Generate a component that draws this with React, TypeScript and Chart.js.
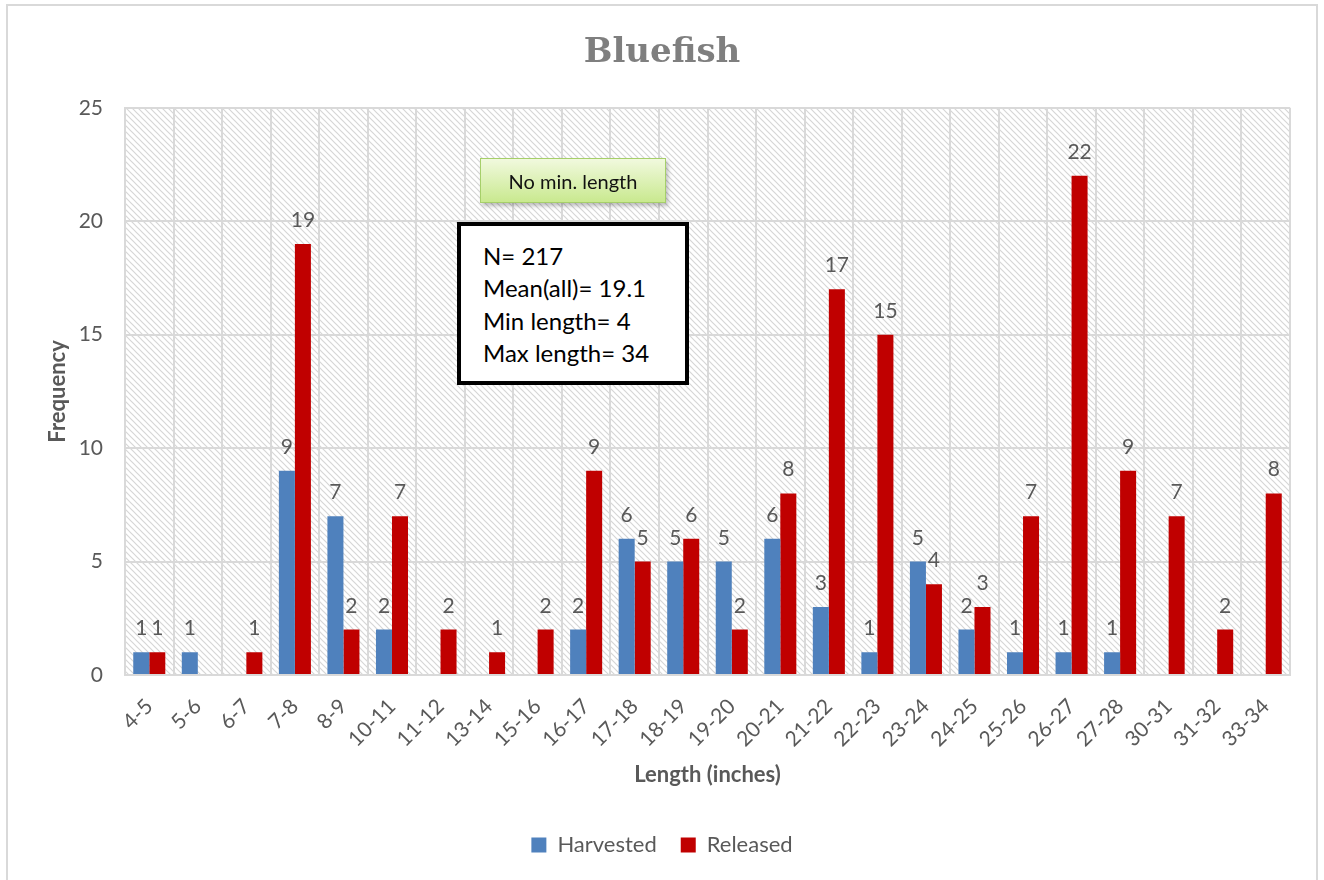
import React, { useEffect, useRef } from "react";
import { Chart, registerables } from "chart.js";

Chart.register(...registerables);

const categories = ["4-5","5-6","6-7","7-8","8-9","10-11","11-12","13-14","15-16","16-17","17-18","18-19","19-20","20-21","21-22","22-23","23-24","24-25","25-26","26-27","27-28","30-31","31-32","33-34"];
const harvested = [1,1,null,9,7,2,null,null,null,2,6,5,5,6,3,1,5,2,1,1,1,null,null,null];
const released = [1,null,1,19,2,7,2,1,2,9,5,6,2,8,17,15,4,3,7,22,9,7,2,8];
const yTicks = [0,5,10,15,20,25];
const statLines = ["N= 217","Mean(all)= 19.1","Min length= 4","Max length= 34"];
const noteText = "No min. length";

const GRAY = "#595959";
const FONT = "Lato, 'Noto Sans', sans-serif";

function makePattern(ctx: CanvasRenderingContext2D) {
  const s = 6;
  const c = document.createElement("canvas");
  c.width = s; c.height = s;
  const p = c.getContext("2d")!;
  p.fillStyle = "#ffffff";
  p.fillRect(0, 0, s, s);
  p.strokeStyle = "#d6d6d6";
  p.lineWidth = 1.2;
  p.beginPath();
  p.moveTo(-1, -1); p.lineTo(s + 1, s + 1);
  p.moveTo(s - 1, -1); p.lineTo(s + 1, 1);
  p.moveTo(-1, s - 1); p.lineTo(1, s + 1);
  p.stroke();
  return ctx.createPattern(c, "repeat");
}

const hatchPlugin = {
  id: "hatch",
  beforeDraw(chart: any) {
    const { ctx, chartArea } = chart;
    if (!chartArea) return;
    ctx.save();
    ctx.fillStyle = makePattern(ctx) || "#fff";
    ctx.fillRect(chartArea.left, chartArea.top, chartArea.right - chartArea.left, chartArea.bottom - chartArea.top);
    ctx.restore();
  },
};

const labelPlugin = {
  id: "barLabels",
  afterDatasetsDraw(chart: any) {
    const { ctx } = chart;
    ctx.save();
    ctx.font = `21px ${FONT}`;
    ctx.fillStyle = GRAY;
    ctx.textAlign = "center";
    ctx.textBaseline = "alphabetic";
    chart.data.datasets.forEach((ds: any, i: number) => {
      const meta = chart.getDatasetMeta(i);
      meta.data.forEach((el: any, j: number) => {
        const v = ds.data[j];
        if (v === null || v === undefined) return;
        ctx.fillText(String(v), el.x, el.y - 17);
      });
    });
    ctx.restore();
  },
};

export default function App() {
  const ref = useRef<HTMLCanvasElement>(null);
  useEffect(() => {
    if (!ref.current) return;
    const chart = new Chart(ref.current, {
      type: "bar",
      data: {
        labels: categories,
        datasets: [
          { label: "Harvested", data: harvested, backgroundColor: "#4f81bd", categoryPercentage: 0.66, barPercentage: 1 },
          { label: "Released", data: released, backgroundColor: "#c00000", categoryPercentage: 0.66, barPercentage: 1 },
        ],
      },
      options: {
        responsive: false,
        animation: false,
        devicePixelRatio: 1,
        layout: { padding: { top: 0, left: 34, right: 34, bottom: 14 } },
        plugins: {
          title: {
            display: true,
            text: "Bluefish",
            color: "#7f7f7f",
            font: { family: "'DejaVu Serif', serif", size: 34, weight: "bold" },
            padding: { top: 33, bottom: 34 },
          },
          legend: {
            position: "bottom",
            labels: {
              color: GRAY,
              font: { family: FONT, size: 22 },
              boxWidth: 15,
              boxHeight: 15,
              padding: 24,
            },
          },
          tooltip: { enabled: false },
        },
        scales: {
          x: {
            afterFit: (s: any) => { s.height = 135; },
            grid: { color: "#d9d9d9", lineWidth: 2, offset: true, drawTicks: false },
            border: { color: "#d9d9d9", width: 2 },
            ticks: {
              color: GRAY,
              font: { family: FONT, size: 21 },
              minRotation: 45,
              maxRotation: 45,
              autoSkip: false,
              padding: 19,
            },
            title: {
              display: true,
              text: "Length (inches)",
              color: GRAY,
              font: { family: FONT, size: 22, weight: "bold" },
              padding: { top: 0, bottom: 22 },
            },
          },
          y: {
            min: 0,
            max: 25,
            afterFit: (s: any) => { s.width = 91; },
            afterBuildTicks: (s: any) => { s.ticks = yTicks.map((v) => ({ value: v })); },
            grid: { color: "#d9d9d9", lineWidth: 2, drawTicks: false },
            border: { color: "#d9d9d9", width: 2 },
            ticks: { color: GRAY, font: { family: FONT, size: 21 }, padding: 22 },
            title: {
              display: true,
              text: "Frequency",
              color: GRAY,
              font: { family: FONT, size: 22, weight: "bold" },
              padding: { top: 11, bottom: 0 },
            },
          },
        },
      },
      plugins: [hatchPlugin, labelPlugin],
    });
    return () => chart.destroy();
  }, []);

  return (
    <div style={{ position: "absolute", left: 0, top: 0, width: 1324, height: 880, overflow: "hidden", background: "#fff" }}>
      <div style={{ position: "absolute", left: 6, top: 4, width: 1308, height: 900, border: "2px solid #d9d9d9" }} />
      <canvas ref={ref} width={1324} height={880} style={{ position: "absolute", left: 0, top: 0, width: 1324, height: 880 }} />
      <div
        style={{
          position: "absolute", left: 480, top: 158, width: 186, height: 45, boxSizing: "border-box",
          background: "linear-gradient(#f1f9de, #c9e98f)", border: "1px solid #a6cf6a",
          boxShadow: "2px 3px 4px rgba(0,0,0,0.25)", display: "flex", alignItems: "center", justifyContent: "center",
          fontFamily: FONT, fontSize: 20, color: "#111",
        }}
      >
        {noteText}
      </div>
      <div
        style={{
          position: "absolute", left: 457, top: 222, width: 232, height: 163, boxSizing: "border-box",
          background: "#fff", border: "4px solid #000", padding: "14px 0 0 22px",
          fontFamily: FONT, fontSize: 24, lineHeight: "32.3px", color: "#000",
        }}
      >
        {statLines.map((t, i) => (<div key={i}>{t}</div>))}
      </div>
    </div>
  );
}
